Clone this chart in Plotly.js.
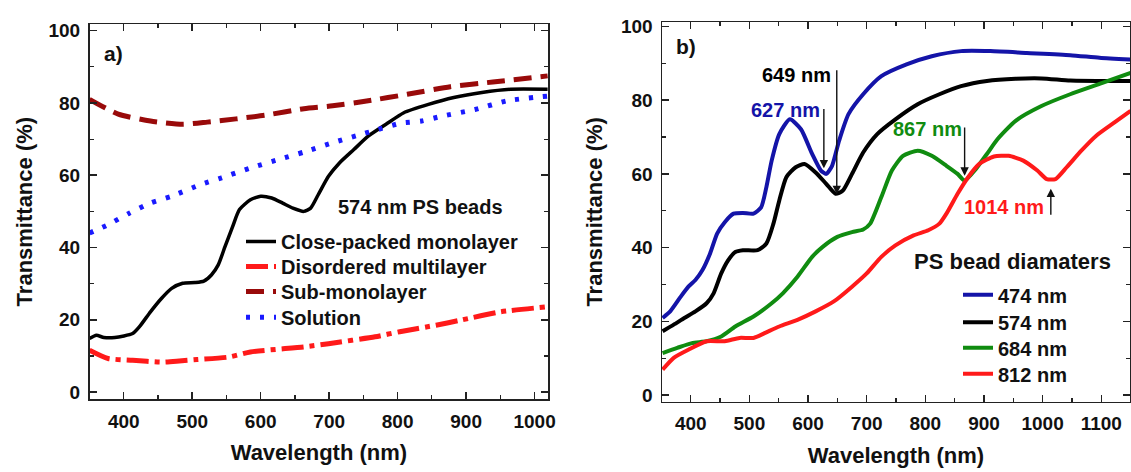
<!DOCTYPE html>
<html>
<head>
<meta charset="utf-8">
<script src="https://cdn.plot.ly/plotly-3.0.1.min.js"></script>
<style>html,body{margin:0;padding:0;background:#fff;}#chart{width:1131px;height:472px;}</style>
</head>
<body>
<div id="chart"></div>
<script>
// ---- Panel a) 574 nm PS beads ----
const closeX = [350,360,371,387,413,423,439,455,470,486,504,517,528,538,548,559,569,585,600,616,632,647,663,673,684,699,715,736,757,783,809,845,882,923,965,1019];
const closeY = [14.8,15.7,15.1,15.1,16.2,18.1,22.2,25.9,28.7,30.1,30.3,30.7,32.4,35.2,40.3,45.8,50.5,53.2,54.2,53.7,52.3,50.9,50.0,50.9,54.6,59.7,63.4,67.1,70.8,74.1,77.3,79.6,81.5,82.9,83.8,83.8];
const disX = [350,377,413,455,481,507,554,585,663,699,767,803,856,892,950,1019];
const disY = [11.6,9.3,8.8,8.3,8.6,9.0,9.7,11.1,12.5,13.4,15.3,16.7,18.5,19.9,22.2,23.6];
const subX = [350,392,439,486,522,564,606,663,705,757,814,877,939,1019];
const subY = [81.0,76.9,75.0,74.1,74.7,75.6,76.6,78.4,79.2,80.6,82.4,84.5,85.8,87.5];
const solX = [350,377,408,439,470,512,543,585,627,663,705,741,772,804,835,866,913,960,1019];
const solY = [44.0,46.3,49.5,52.3,54.2,57.4,59.3,62.0,64.4,66.4,69.0,71.0,72.7,74.4,75.0,76.4,78.2,80.6,81.9];
const namesA = ["Close-packed monolayer","Disordered multilayer","Sub-monolayer","Solution"];

// ---- Panel b) PS bead diameters ----
const b474X = [352,365,383,396,408,420,433,445,458,473,489,507,520,529,538,551,569,588,607,622,631,641,653,669,694,725,768,811,861,911,973,1047,1097,1150];
const b474Y = [20.9,22.7,26.7,29.4,31.2,33.9,38.4,43.8,46.9,49.2,49.4,49.2,50.9,56.4,63.6,70.8,74.8,72.1,65.4,60.9,60.0,62.2,69.0,76.2,81.6,86.5,89.7,91.9,93.3,93.3,92.8,92.2,91.5,91.0];
const b574X = [352,371,389,408,427,439,452,464,476,489,514,529,541,551,563,579,594,613,631,647,659,675,694,718,749,787,824,861,905,954,998,1047,1097,1150];
const b574Y = [17.3,19.1,20.9,22.7,24.9,27.6,33.0,36.6,38.8,39.3,39.3,41.1,46.5,52.8,59.1,61.8,62.7,60.4,57.3,54.6,55.4,60.0,65.8,70.8,74.8,78.9,81.6,83.8,85.2,85.8,85.9,85.3,85.2,85.2];
const b684X = [352,377,402,427,452,476,507,538,557,582,607,625,650,675,694,706,725,743,762,787,811,836,855,867,886,905,923,954,998,1047,1097,1150];
const b684Y = [11.4,12.8,14.1,14.6,15.9,18.6,21.3,24.9,27.6,32.1,37.5,40.2,42.9,44.2,44.9,46.5,53.7,60.9,64.9,66.3,64.9,62.2,60.0,58.2,61.3,65.4,69.4,74.4,78.4,81.6,84.4,87.4];
const b812X = [352,371,396,427,458,483,507,526,551,582,613,644,675,700,725,749,780,805,824,836,855,873,892,917,942,967,991,1007,1022,1041,1066,1091,1122,1150];
const b812Y = [6.9,10.1,12.3,14.6,14.6,15.5,15.5,16.8,18.6,20.4,22.7,25.4,29.4,33.0,37.5,40.6,43.3,44.7,46.5,49.2,54.6,59.1,62.7,64.7,64.9,63.6,60.9,58.6,58.6,61.8,66.3,70.3,73.9,77.1];
const namesB = ["474 nm","574 nm","684 nm","812 nm"];

// annotation values (panel b)
const peakLabels = ["649 nm","627 nm","867 nm","1014 nm"];
const peakWl = [649,627,867,1014];
const peakTip = [54.5,61.5,59.5,56.0];
const peakTail = [88.5,78.0,73.0,48.5];
const labelX = [581,561,804,934];
const labelY = [86.7,77.2,72.1,51.0];
const labelColors = ["#000000","#1414a8","#108c10","#ff1a1a"];

const FONT = "Liberation Sans, Arial, sans-serif";
const sp = {shape:'spline', smoothing:0.6};

const traces = [
  {x:closeX, y:closeY, name:namesA[0], mode:'lines', line:Object.assign({color:'#000000', width:3.5}, sp), xaxis:'x', yaxis:'y', legend:'legend'},
  {x:disX, y:disY, name:namesA[1], mode:'lines', line:Object.assign({color:'#ff1a1a', width:5, dash:'22px,6px,5px,6px'}, sp), xaxis:'x', yaxis:'y', legend:'legend2'},
  {x:subX, y:subY, name:namesA[2], mode:'lines', line:Object.assign({color:'#990a0a', width:5, dash:'18px,9px'}, sp), xaxis:'x', yaxis:'y', legend:'legend3'},
  {x:solX, y:solY, name:namesA[3], mode:'lines', line:Object.assign({color:'#1a1aff', width:5, dash:'4px,10px'}, sp), xaxis:'x', yaxis:'y', legend:'legend4'},
  {x:b474X, y:b474Y, name:namesB[0], mode:'lines', line:Object.assign({color:'#1414a8', width:4}, sp), xaxis:'x2', yaxis:'y2', legend:'legend5'},
  {x:b574X, y:b574Y, name:namesB[1], mode:'lines', line:Object.assign({color:'#000000', width:4}, sp), xaxis:'x2', yaxis:'y2', legend:'legend6'},
  {x:b684X, y:b684Y, name:namesB[2], mode:'lines', line:Object.assign({color:'#108c10', width:4}, sp), xaxis:'x2', yaxis:'y2', legend:'legend7'},
  {x:b812X, y:b812Y, name:namesB[3], mode:'lines', line:Object.assign({color:'#ff1a1a', width:4}, sp), xaxis:'x2', yaxis:'y2', legend:'legend8'}
];

const W = 1131, H = 472;
const px = v => v / W;
const py = v => 1 - v / H;

function axisCommon(extra){
  return Object.assign({
    showline:true, mirror:'ticks', linecolor:'#222', linewidth:1.5,
    ticks:'inside', ticklen:7, tickwidth:1.5, tickcolor:'#222',
    showgrid:false, zeroline:false, automargin:false,
    tickfont:{family:FONT, size:19, color:'#111', weight:700}
  }, extra);
}
const minorTicks = d => ({ticks:'inside', ticklen:4, tickwidth:1.2, tickcolor:'#222', dtick:d, tick0:0, showgrid:false});
const titleFont = {family:FONT, size:22, color:'#111', weight:700};

const layout = {
  width:W, height:H,
  margin:{l:0, r:0, t:0, b:0},
  paper_bgcolor:'#ffffff', plot_bgcolor:'#ffffff',
  showlegend:true,
  xaxis: axisCommon({domain:[px(89.5), px(548.3)], range:[350,1020], anchor:'y', tickvals:[400,500,600,700,800,900,1000], minor:minorTicks(50), ticklabelstandoff:4, title:{text:'Wavelength (nm)', font:titleFont, standoff:14}}),
  yaxis: axisCommon({domain:[py(399.3), py(24)], range:[-2,101.85], anchor:'x', tickvals:[0,20,40,60,80,100], minor:minorTicks(10), ticklabelstandoff:4, title:{text:'Transmittance (%)', font:titleFont, standoff:10}}),
  xaxis2: axisCommon({domain:[px(662), px(1130)], range:[351,1149], anchor:'y2', tickvals:[400,500,600,700,800,900,1000,1100], minor:minorTicks(50), ticklabelstandoff:4, title:{text:'Wavelength (nm)', font:titleFont, standoff:14}}),
  yaxis2: axisCommon({domain:[py(401.7), py(22)], range:[-1.8,101.2], anchor:'x2', tickvals:[0,20,40,60,80,100], minor:minorTicks(10), ticklabelstandoff:4, title:{text:'Transmittance (%)', font:titleFont, standoff:12}}),
  annotations: [
    {xref:'paper', yref:'paper', x:px(102), y:py(53.3), xanchor:'left', yanchor:'middle', text:'a)', showarrow:false, font:{family:FONT, size:21, color:'#111', weight:700}},
    {xref:'paper', yref:'paper', x:px(674), y:py(46.7), xanchor:'left', yanchor:'middle', text:'b)', showarrow:false, font:{family:FONT, size:21, color:'#111', weight:700}},
    {xref:'paper', yref:'paper', x:px(336), y:py(206.7), xanchor:'left', yanchor:'middle', text:'574 nm PS beads', showarrow:false, font:{family:FONT, size:20, color:'#111', weight:700}},
    {xref:'paper', yref:'paper', x:px(912), y:py(261.7), xanchor:'left', yanchor:'middle', text:'PS bead diamaters', showarrow:false, font:{family:FONT, size:22, color:'#111', weight:700}}
  ]
};

// one legend box per entry so the row spacing matches the reference
const legCentersA = [241, 266, 291, 316.7];
const legCentersB = [294.3, 321.7, 347.3, 373.3];
const legKeys = ['legend','legend2','legend3','legend4','legend5','legend6','legend7','legend8'];
legKeys.forEach((k, i) => {
  const isA = i < 4;
  const c = isA ? legCentersA[i] : legCentersB[i - 4];
  layout[k] = {x:px(isA ? 241 : 958), y:py(c - 19), xanchor:'left', yanchor:'top', bgcolor:'rgba(0,0,0,0)', borderwidth:0, font:{family:FONT, size:20, color:'#111', weight:700}, itemwidth:30};
});

for (let i = 0; i < peakLabels.length; i++) {
  layout.annotations.push({xref:'x2', yref:'y2', x:labelX[i], y:labelY[i], xanchor:'center', yanchor:'middle', text:peakLabels[i], showarrow:false, font:{family:FONT, size:20, color:labelColors[i], weight:700}});
  layout.annotations.push({xref:'x2', yref:'y2', axref:'x2', ayref:'y2', x:peakWl[i], y:peakTip[i], ax:peakWl[i], ay:peakTail[i], text:'', showarrow:true, arrowhead:2, arrowsize:1.2, arrowwidth:1.4, arrowcolor:'#111', standoff:0, startstandoff:0});
}

Plotly.newPlot('chart', traces, layout, {displayModeBar:false, staticPlot:true});
</script>
</body>
</html>
